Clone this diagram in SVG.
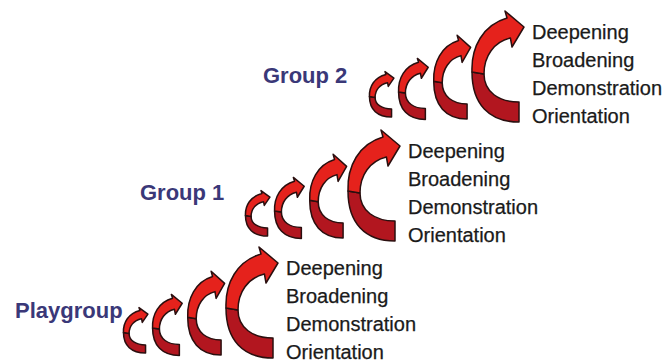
<svg xmlns="http://www.w3.org/2000/svg" xmlns:xlink="http://www.w3.org/1999/xlink" width="665" height="363" viewBox="0 0 665 363">
  <style>
    .label { font-family: "Liberation Sans", Arial, sans-serif; font-weight: bold; font-size: 22px; fill: #3a3878; }
    .stage { font-family: "Liberation Sans", Arial, sans-serif; font-size: 20px; fill: #1a1a1a; stroke: #1a1a1a; stroke-width: 0.25; }
    .front { fill: #e5221c; stroke: #2a0f0f; stroke-width: 1.5; stroke-linejoin: round; vector-effect: non-scaling-stroke; }
    .back { fill: #b2161f; stroke: #2a0f0f; stroke-width: 1.5; stroke-linejoin: round; vector-effect: non-scaling-stroke; }
  </style>
  <defs>
    <!-- curled ribbon arrow, unit box 53 x 110 -->
    <g id="curl">
      <path class="back" d="M1,60 C1,92 18,110 48,110 L48,90 C28,90 13,80 13,62 Z"/>
      <path class="front" d="M1,60 C0,35 12,13 36,6 L34,-1 L53,15 L41,35 L39.4,26 C23,30 13,44 13,62 Z"/>
    </g>
  </defs>
  <rect width="665" height="363" fill="#ffffff"/>

  <g id="playgroup">
    <text class="label" x="15" y="318">Playgroup</text>
    <g id="playgroup-arrows">
      <use xlink:href="#curl" transform="translate(123,308) scale(0.47,0.41)"/>
      <use xlink:href="#curl" transform="translate(152,295) scale(0.57,0.55)"/>
      <use xlink:href="#curl" transform="translate(187,272) scale(0.71,0.755)"/>
      <use xlink:href="#curl" transform="translate(225,248) scale(1,1)"/>
    </g>
    <g id="playgroup-stages">
      <text class="stage" x="286" y="275">Deepening</text>
      <text class="stage" x="286" y="303">Broadening</text>
      <text class="stage" x="286" y="331">Demonstration</text>
      <text class="stage" x="286" y="359">Orientation</text>
    </g>
  </g>

  <g id="group-1" transform="translate(122,-117)">
    <text class="label" x="18" y="317">Group 1</text>
    <g id="group-1-arrows">
      <use xlink:href="#curl" transform="translate(123,308) scale(0.47,0.41)"/>
      <use xlink:href="#curl" transform="translate(152,295) scale(0.57,0.55)"/>
      <use xlink:href="#curl" transform="translate(187,272) scale(0.71,0.755)"/>
      <use xlink:href="#curl" transform="translate(225,248) scale(1,1)"/>
    </g>
    <g id="group-1-stages">
      <text class="stage" x="286" y="275">Deepening</text>
      <text class="stage" x="286" y="303">Broadening</text>
      <text class="stage" x="286" y="331">Demonstration</text>
      <text class="stage" x="286" y="359">Orientation</text>
    </g>
  </g>

  <g id="group-2" transform="translate(246,-236)">
    <text class="label" x="17" y="319">Group 2</text>
    <g id="group-2-arrows">
      <use xlink:href="#curl" transform="translate(123,308) scale(0.47,0.41)"/>
      <use xlink:href="#curl" transform="translate(152,295) scale(0.57,0.55)"/>
      <use xlink:href="#curl" transform="translate(187,272) scale(0.71,0.755)"/>
      <use xlink:href="#curl" transform="translate(225,248) scale(1,1)"/>
    </g>
    <g id="group-2-stages">
      <text class="stage" x="286" y="275">Deepening</text>
      <text class="stage" x="286" y="303">Broadening</text>
      <text class="stage" x="286" y="331">Demonstration</text>
      <text class="stage" x="286" y="359">Orientation</text>
    </g>
  </g>
</svg>
